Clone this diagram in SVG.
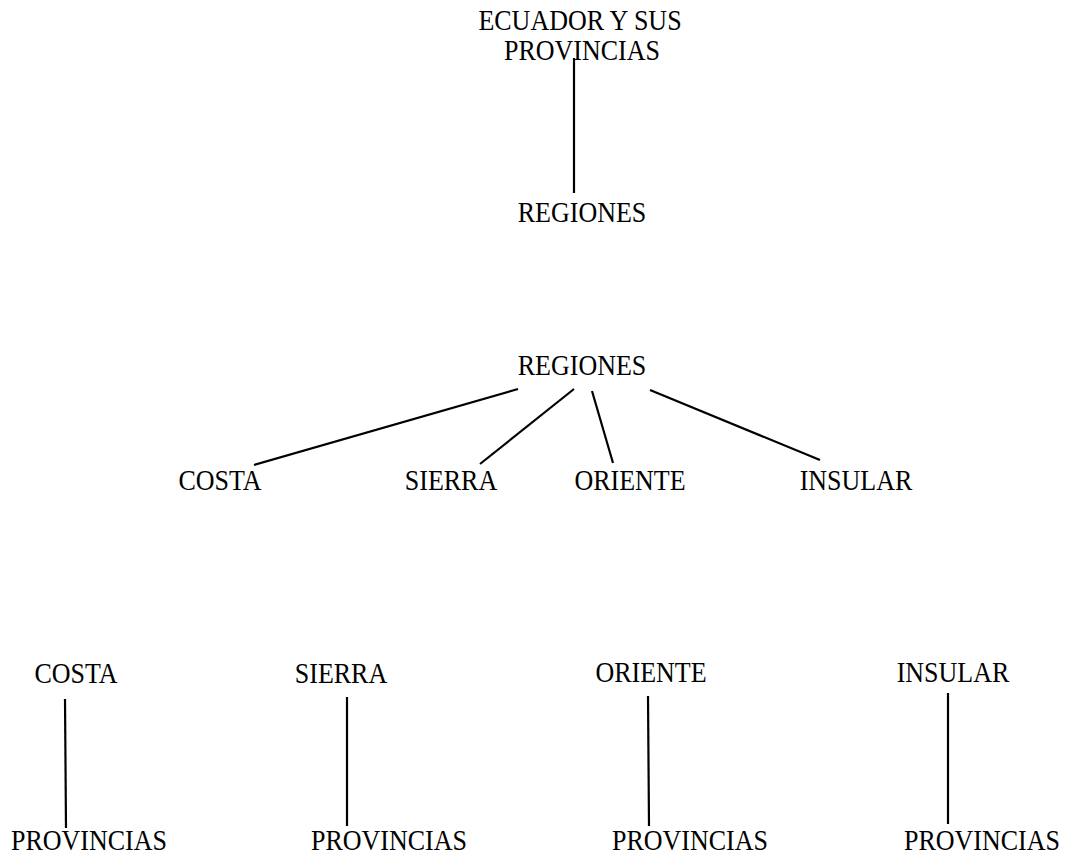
<svg xmlns="http://www.w3.org/2000/svg" width="1088" height="857" viewBox="0 0 1088 857">
  <style>
    .lbl { font-family: "Liberation Serif", "Times New Roman", serif; font-size: 26px; fill: #000; text-anchor: middle; }
    .edge { stroke: #000; stroke-width: 2.2; fill: none; stroke-linecap: butt; }
  </style>
  <rect width="1088" height="857" fill="#fff"/>

  <!-- connectors -->
  <g id="connectors">
    <line class="edge" x1="574" y1="58" x2="574" y2="193"/>
    <line class="edge" x1="518" y1="389" x2="254" y2="465"/>
    <line class="edge" x1="574" y1="389" x2="480" y2="464"/>
    <line class="edge" x1="592" y1="391" x2="613" y2="463"/>
    <line class="edge" x1="650" y1="390" x2="820" y2="460"/>
    <line class="edge" x1="65" y1="699" x2="66" y2="828"/>
    <line class="edge" x1="347" y1="697" x2="347" y2="826"/>
    <line class="edge" x1="648" y1="696" x2="649" y2="826"/>
    <line class="edge" x1="948" y1="693" x2="948" y2="824"/>
  </g>

  <!-- labels are slightly taller than wide, hence the vertical stretch -->
  <g id="n-ecuador">
    <text class="lbl" transform="translate(580 30) scale(1 1.1)">ECUADOR Y SUS</text>
    <text class="lbl" transform="translate(582 60) scale(1 1.1)">PROVINCIAS</text>
  </g>
  <g id="n-regiones-1">
    <text class="lbl" transform="translate(582 222) scale(1 1.1)">REGIONES</text>
  </g>

  <g id="n-regiones-2">
    <text class="lbl" transform="translate(582 375) scale(1 1.1)">REGIONES</text>
  </g>
  <g id="n-costa-1">
    <text class="lbl" transform="translate(220 490) scale(1 1.1)">COSTA</text>
  </g>
  <g id="n-sierra-1">
    <text class="lbl" transform="translate(451 490) scale(1 1.1)">SIERRA</text>
  </g>
  <g id="n-oriente-1">
    <text class="lbl" transform="translate(630 490) scale(1 1.1)">ORIENTE</text>
  </g>
  <g id="n-insular-1">
    <text class="lbl" transform="translate(856 490) scale(1 1.1)">INSULAR</text>
  </g>

  <g id="n-costa-2">
    <text class="lbl" transform="translate(76 683) scale(1 1.1)">COSTA</text>
  </g>
  <g id="n-costa-prov">
    <text class="lbl" transform="translate(89 850) scale(1 1.1)">PROVINCIAS</text>
  </g>
  <g id="n-sierra-2">
    <text class="lbl" transform="translate(341 683) scale(1 1.1)">SIERRA</text>
  </g>
  <g id="n-sierra-prov">
    <text class="lbl" transform="translate(389 850) scale(1 1.1)">PROVINCIAS</text>
  </g>
  <g id="n-oriente-2">
    <text class="lbl" transform="translate(651 682) scale(1 1.1)">ORIENTE</text>
  </g>
  <g id="n-oriente-prov">
    <text class="lbl" transform="translate(690 850) scale(1 1.1)">PROVINCIAS</text>
  </g>
  <g id="n-insular-2">
    <text class="lbl" transform="translate(953 682) scale(1 1.1)">INSULAR</text>
  </g>
  <g id="n-insular-prov">
    <text class="lbl" transform="translate(982 850) scale(1 1.1)">PROVINCIAS</text>
  </g>
</svg>
